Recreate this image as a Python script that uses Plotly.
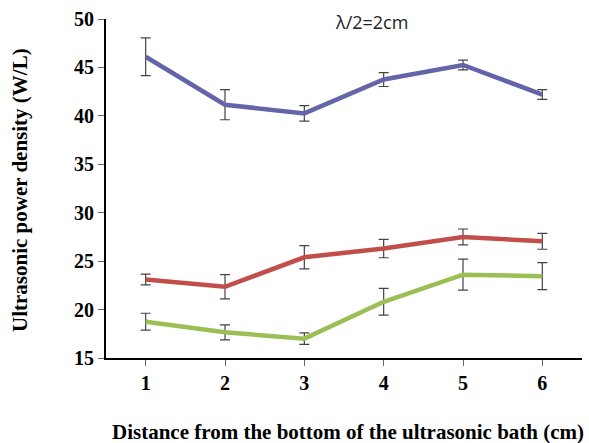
import plotly.graph_objects as go

x_vals = [1, 2, 3, 4, 5, 6]
blue_vals = [46.1, 41.15, 40.25, 43.75, 45.25, 42.2]
blue_err = [1.95, 1.55, 0.8, 0.72, 0.5, 0.5]
red_vals = [23.1, 22.35, 25.4, 26.3, 27.5, 27.05]
red_err = [0.55, 1.25, 1.2, 0.95, 0.82, 0.82]
green_vals = [18.75, 17.65, 17.0, 20.8, 23.6, 23.45]
green_err = [0.87, 0.78, 0.6, 1.38, 1.6, 1.4]
y_ticks = [15, 20, 25, 30, 35, 40, 45, 50]

series = [
    (blue_vals, blue_err, "#6464A8"),
    (red_vals, red_err, "#C24E4B"),
    (green_vals, green_err, "#9BBE55"),
]

fig = go.Figure()
for vals, err, col in series:
    fig.add_trace(go.Scatter(
        x=x_vals, y=vals, mode="lines",
        line=dict(color=col, width=4.5),
        error_y=dict(type="data", array=err, visible=True,
                     color="#444444", thickness=1.2, width=5),
        showlegend=False,
    ))

serif = "Liberation Serif, Times New Roman, serif"
fig.update_layout(
    width=589, height=443,
    margin=dict(l=106, r=7, t=19, b=85),
    paper_bgcolor="white", plot_bgcolor="white",
    xaxis=dict(range=[0.5, 6.5], tickvals=x_vals, ticktext=[str(v) for v in x_vals],
               showgrid=False, zeroline=False, showline=True, linecolor="black", linewidth=2,
               ticks="outside", ticklen=6, tickcolor="#666666", tickwidth=1,
               tickfont=dict(family=serif, size=20, color="black", weight="bold")),
    yaxis=dict(range=[15, 50], tickvals=y_ticks,
               showgrid=False, zeroline=False, showline=True, linecolor="black", linewidth=2,
               ticks="outside", ticklen=6, tickcolor="#666666", tickwidth=1,
               tickfont=dict(family=serif, size=20, color="black", weight="bold")),
    annotations=[
        dict(text="Distance from the bottom of the ultrasonic bath (cm)",
             xref="paper", yref="paper", x=(348 - 106) / 476, y=-(432 - 358) / 339,
             xanchor="center", yanchor="middle", showarrow=False,
             font=dict(family=serif, size=21, color="black", weight="bold")),
        dict(text="Ultrasonic power density (W/L)",
             xref="paper", yref="paper", x=-(106 - 20) / 476, y=(358 - 190) / 339,
             xanchor="center", yanchor="middle", showarrow=False, textangle=-90,
             font=dict(family=serif, size=21, color="black", weight="bold")),
        dict(text="λ/2=2cm",
             xref="paper", yref="paper", x=(371 - 106) / 476, y=(358 - 22) / 339,
             xanchor="center", yanchor="middle", showarrow=False,
             font=dict(family="Open Sans, DejaVu Sans, sans-serif", size=18, color="#222222")),
    ],
)
fig.write_html("out.html")
